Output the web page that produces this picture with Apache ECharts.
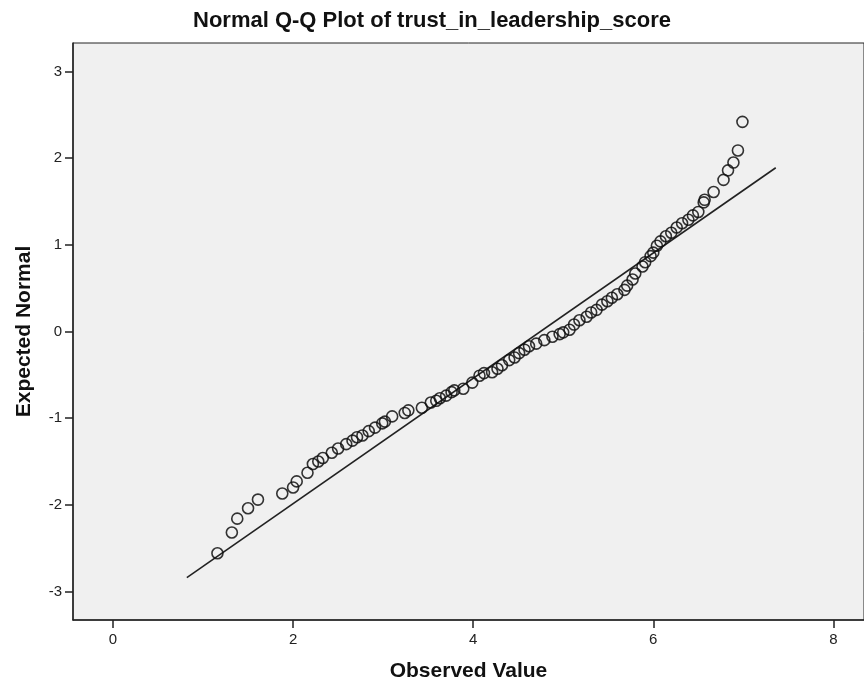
<!DOCTYPE html>
<html>
<head>
<meta charset="utf-8">
<script src="https://cdn.jsdelivr.net/npm/echarts@6/dist/echarts.min.js"></script>
<style>
  html, body { margin: 0; padding: 0; background: #fff; }
  #chart { width: 864px; height: 687px; }
</style>
</head>
<body>
<div id="chart"></div>
<script>
var observed = [
  1.16, 1.32, 1.38, 1.50, 1.61, 1.88, 2.00, 2.04, 2.16, 2.22,
  2.28, 2.33, 2.43, 2.50, 2.59, 2.66, 2.71, 2.77, 2.84, 2.91,
  2.99, 3.02, 3.10, 3.24, 3.28, 3.43, 3.53, 3.59, 3.63, 3.70,
  3.76, 3.79, 3.89, 3.99, 4.07, 4.12, 4.21, 4.27, 4.32, 4.40,
  4.46, 4.51, 4.57, 4.62, 4.70, 4.79, 4.88, 4.96, 5.00, 5.07,
  5.12, 5.18, 5.26, 5.31, 5.37, 5.43, 5.49, 5.54, 5.60, 5.68,
  5.71, 5.77, 5.80, 5.88, 5.91, 5.97, 6.00, 6.04, 6.08, 6.14,
  6.20, 6.26, 6.32, 6.39, 6.44, 6.50, 6.56, 6.57, 6.67, 6.78,
  6.83, 6.89, 6.94, 6.99
];
var expected = [
  -2.56, -2.32, -2.16, -2.04, -1.94, -1.87, -1.80, -1.73, -1.63, -1.53,
  -1.50, -1.46, -1.40, -1.35, -1.30, -1.26, -1.22, -1.20, -1.15, -1.11,
  -1.06, -1.04, -0.98, -0.94, -0.91, -0.88, -0.82, -0.80, -0.77, -0.74,
  -0.70, -0.68, -0.66, -0.59, -0.51, -0.48, -0.47, -0.43, -0.39, -0.33,
  -0.30, -0.25, -0.21, -0.17, -0.14, -0.10, -0.06, -0.03, -0.01, 0.02,
  0.08, 0.13, 0.17, 0.22, 0.25, 0.31, 0.35, 0.39, 0.43, 0.48,
  0.53, 0.60, 0.67, 0.75, 0.80, 0.87, 0.91, 0.99, 1.04, 1.10,
  1.14, 1.20, 1.25, 1.29, 1.34, 1.38, 1.49, 1.52, 1.61, 1.75,
  1.86, 1.95, 2.09, 2.42
];
// reference line end points
var lineX = [0.82, 7.36];
var lineY = [-2.84, 1.89];
// tick labels
var xTicks = [0, 2, 4, 6, 8];
var yTicks = [-3, -2, -1, 0, 1, 2, 3];

var font = "'Liberation Sans', Arial, sans-serif";
var ink = '#222';

var points = [];
for (var i = 0; i < observed.length; i++) {
  points.push([observed[i], expected[i]]);
}
var refLine = [];
for (var j = 0; j < lineX.length; j++) {
  refLine.push([lineX[j], lineY[j]]);
}

var option = {
  animation: false,
  backgroundColor: '#fff',
  title: {
    text: 'Normal Q-Q Plot of trust_in_leadership_score',
    left: 'center',
    top: 5,
    textStyle: { fontFamily: font, fontSize: 22, fontWeight: 'bold', color: '#111' }
  },
  grid: {
    left: 73, top: 43, right: -3, bottom: 65,
    show: true,
    backgroundColor: '#f0f0f0',
    borderColor: ink,
    borderWidth: 1
  },
  xAxis: {
    type: 'value',
    min: -0.444, max: 8.34,
    name: 'Observed Value',
    nameLocation: 'middle',
    nameGap: 41,
    nameTextStyle: { fontFamily: font, fontSize: 21, fontWeight: 'bold', color: '#111' },
    axisLine: { onZero: false, lineStyle: { color: ink, width: 1.5 } },
    axisTick: { length: 8, lineStyle: { color: ink, width: 1.5 }, customValues: xTicks },
    axisLabel: { margin: 12, fontFamily: font, fontSize: 15, color: ink, customValues: xTicks },
    splitLine: { show: false }
  },
  yAxis: {
    type: 'value',
    min: -3.33, max: 3.33,
    name: 'Expected Normal',
    nameLocation: 'middle',
    nameGap: 38,
    nameTextStyle: { fontFamily: font, fontSize: 21, fontWeight: 'bold', color: '#111' },
    axisLine: { show: true, onZero: false, lineStyle: { color: ink, width: 1.5 } },
    axisTick: { show: true, length: 8, lineStyle: { color: ink, width: 1.5 }, customValues: yTicks },
    axisLabel: { margin: 11, fontFamily: font, fontSize: 15, color: ink, customValues: yTicks },
    splitLine: { show: false }
  },
  series: [
    {
      type: 'line',
      data: refLine,
      symbol: 'none',
      lineStyle: { color: ink, width: 1.6 },
      z: 2
    },
    {
      type: 'scatter',
      data: points,
      symbol: 'circle',
      symbolSize: 11,
      itemStyle: { color: 'rgba(0,0,0,0)', borderColor: '#111', borderWidth: 1.6, opacity: 0.85 },
      z: 3
    }
  ]
};

var chart = echarts.init(document.getElementById('chart'));
chart.setOption(option);
</script>
</body>
</html>
